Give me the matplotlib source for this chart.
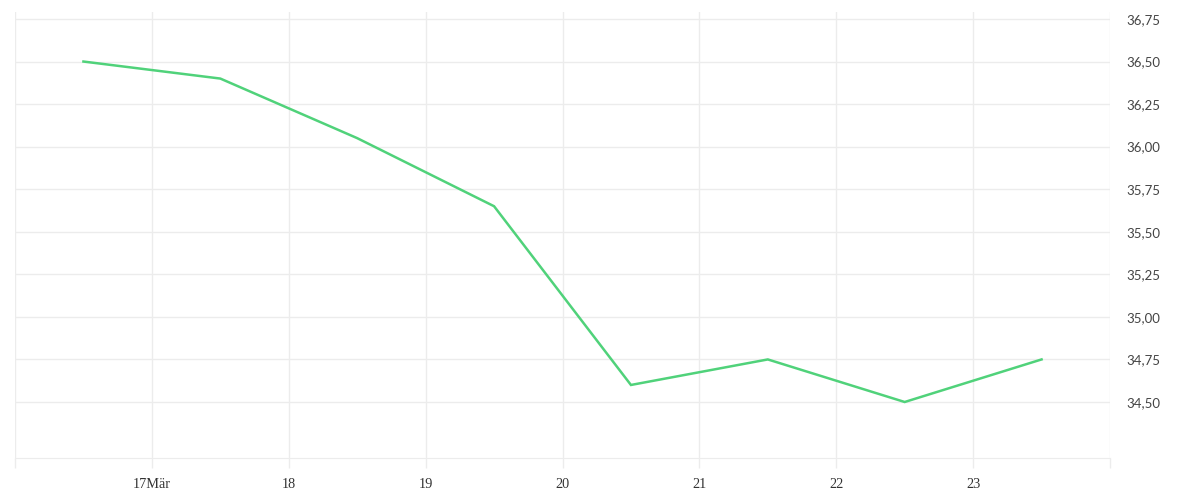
import matplotlib
matplotlib.use("Agg")
import matplotlib.pyplot as plt
import pandas as pd

# Data
times = pd.to_datetime([
    "2024-03-16 12:00", "2024-03-17 12:00", "2024-03-18 12:00", "2024-03-19 12:00",
    "2024-03-20 12:00", "2024-03-21 12:00", "2024-03-22 12:00", "2024-03-23 12:00",
])
values = [36.50, 36.40, 36.05, 35.65, 34.60, 34.75, 34.50, 34.75]
grid_days = pd.date_range("2024-03-16", "2024-03-24", freq="D")
x_labels = ["", "17Mär", "18", "19", "20", "21", "22", "23", ""]
y_ticks = [34.50, 34.75, 35.00, 35.25, 35.50, 35.75, 36.00, 36.25, 36.50, 36.75]
y_labels = [f"{v:.2f}".replace(".", ",") for v in y_ticks]

fig = plt.figure(figsize=(12, 5), dpi=100)
ax = fig.add_axes([15/1200, 42/500, (1110-15)/1200, (458-12)/500])

ax.plot(times, values, color="#50d27a", linewidth=1.8, solid_joinstyle="miter")

ax.set_xlim(grid_days[0], grid_days[-1])
ax.set_ylim(34.171, 36.791)

ax.set_xticks(grid_days)
ax.set_xticklabels(x_labels, family="Liberation Serif", fontsize=10.3, color="#333333")
ax.set_yticks(y_ticks)
ax.set_yticklabels(y_labels, family="Lato", fontsize=9.5, color="#444444")

ax.yaxis.tick_right()
ax.tick_params(axis="y", length=0, pad=12)
ax.tick_params(axis="x", length=7.2, width=1, color="#ececec", pad=7)

ax.grid(True, color="#ececec", linewidth=1)
ax.set_axisbelow(True)
for s in ["top", "left", "right"]:
    ax.spines[s].set_visible(False)
ax.spines["bottom"].set_color("#ececec")

fig.savefig("out.png", dpi=100)
